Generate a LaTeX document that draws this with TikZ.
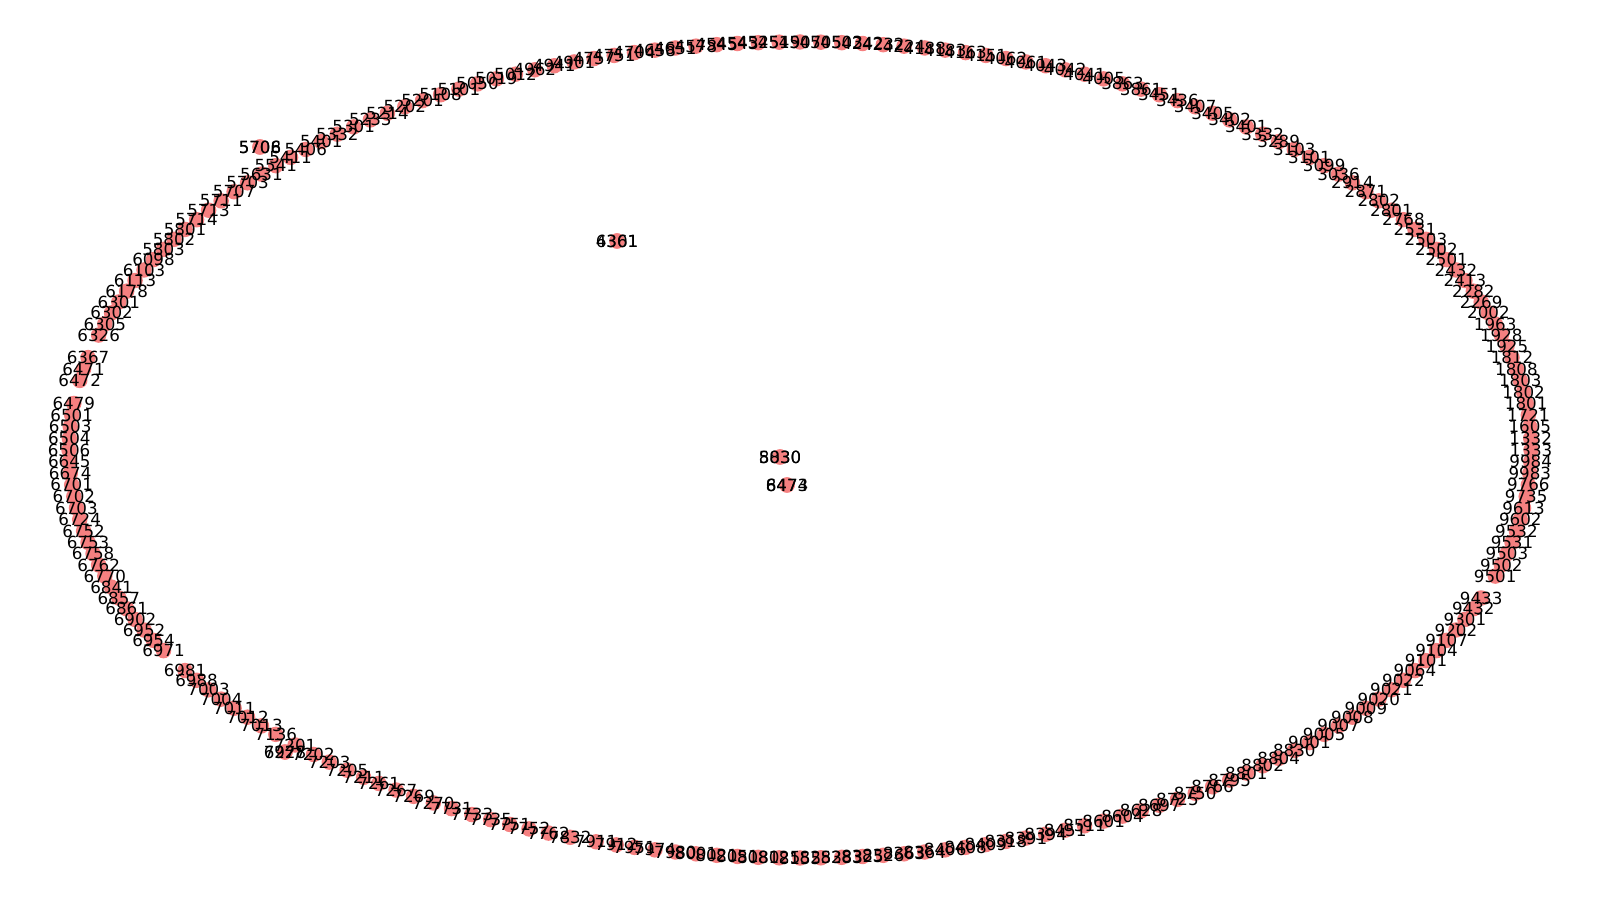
\documentclass[tikz,border=0pt]{standalone}
\usepackage{fontspec}
\setmainfont{DejaVu Sans}
\definecolor{nodecol}{RGB}{245,128,128}
\tikzset{
  nd/.style={circle, fill=nodecol, draw=none, minimum size=15.5pt, inner sep=0pt},
  lbl/.style={font=\fontsize{16.7}{20}\selectfont, inner sep=0pt, text=black}
}
\begin{document}
\begin{tikzpicture}[x=1pt,y=1pt]
\useasboundingbox (0,0) rectangle (1600,900);
\def\ringlist{0/1333,1/1332,2/1605,3/1721,4/1801,5/1802,6/1803,7/1808,8/1812,9/1925,
10/1928,11/1963,12/2002,13/2269,14/2282,15/2413,16/2432,17/2501,18/2502,19/2503,
20/2531,21/2768,22/2801,23/2802,24/2871,25/2914,26/3036,27/3099,28/3101,29/3103,
30/3289,31/3332,32/3401,33/3402,34/3405,35/3407,36/3436,37/3451,38/3861,39/3863,
40/4005,41/4041,42/4042,43/4043,44/4061,45/4062,46/4151,47/4163,48/4183,49/4188,
50/4224,51/4232,52/4242,53/4503,54/4505,55/4507,56/4519,57/4525,58/4543,59/4545,
60/4578,61/4651,62/4658,63/4704,64/4751,65/4757,66/4901,67/4941,68/4962,69/5012,
70/5019,71/5050,72/5101,73/5108,74/5201,75/5202,76/5214,77/5233,78/5301,79/5332,
80/5401,81/5406,82/5411,83/5541,84/5631,85/5703,86/5707,87/5711,88/5713,89/5714,
90/5801,91/5802,92/5803,93/6098,94/6103,95/6113,96/6178,97/6301,98/6302,99/6305,
100/6326,102/6367,103/6471,104/6472,106/6479,107/6501,108/6503,109/6504,
110/6506,111/6645,112/6674,113/6701,114/6702,115/6703,116/6724,117/6752,118/6753,119/6758,
120/6762,121/6770,122/6841,123/6857,124/6861,125/6902,126/6952,127/6954,128/6971,
130/6981,131/6988,132/7003,133/7004,134/7011,135/7012,136/7013,137/7136,138.3/7201,139.5/7202,
140.5/7203,141.6/7205,142.6/7211,143.5/7261,144.5/7267,145.5/7269,146.6/7270,147.6/7731,148.7/7733,149.7/7735,
150.7/7751,151.7/7752,152.7/7762,153.8/7832,155.1/7911,156.1/7912,157/7951,158/7974,159/7980,
160/8001,161/8021,162/8051,163/8080,164/8125,165/8155,166/8253,167/8283,168/8325,169/8326,
170/8363,171/8364,172/8406,173/8408,174/8409,175/8318,176/8391,177/8394,178/8451,179/8511,
180/8601,181/8604,182/8628,183/8697,184/8725,185/8750,186/8766,187/8795,188/8801,189/8802,
190/8804,191/8830,192/9001,193/9005,194/9007,195/9008,196/9009,197/9020,198/9021,199/9022,
200/9064,201/9101,202/9104,203/9107,204/9202,205/9301,206/9432,207/9433,
209/9501,210/9502,211/9503,212/9531,213/9532,214/9602,215/9613,216/9735,217/9766,218/9983,219/9984}
\def\offlist{260/753/5706,260/753/5708,285/148/6927,285/148/7278,617/659/4301,617/659/6361,780/443/5830,780/443/8030,787/415/6474,787/415/8473}
% nodes (circles) first
\foreach \k/\l in \ringlist {
  \node[nd] (n\l) at ({800+731*cos(\k*1.636364)},{450+408*sin(\k*1.636364)}) {};
}
\foreach \px/\py/\l in \offlist {
  \node[nd] (n\l) at (\px,\py) {};
}
% labels on top
\foreach \k/\l in \ringlist {
  \node[lbl] (t\l) at (n\l) {\l};
}
\foreach \px/\py/\l in \offlist {
  \node[lbl] (t\l) at (n\l) {\l};
}
\end{tikzpicture}
\end{document}
